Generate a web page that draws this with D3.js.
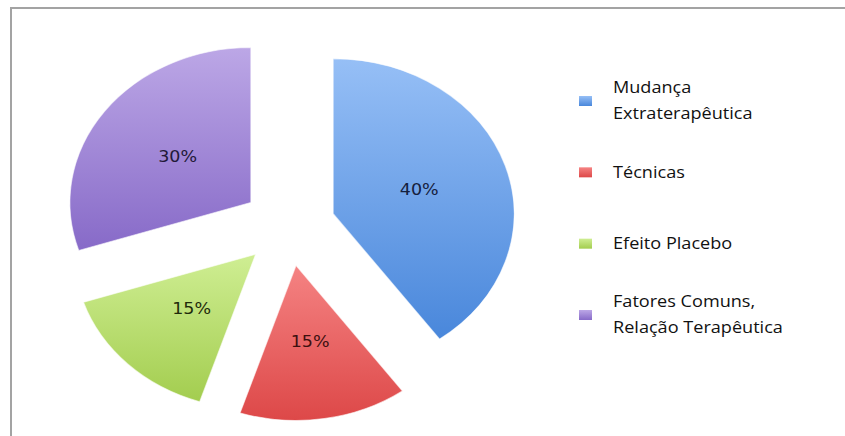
<!DOCTYPE html>
<html>
<head>
<meta charset="utf-8">
<script src="https://cdn.jsdelivr.net/npm/d3@7"></script>
<style>
  body { margin: 0; background: #fff; }
</style>
</head>
<body>
<script>
// Chart dimension
const width = 845;
const height = 436;

// Data
const categories = ["Mudança Extraterapêutica", "Técnicas", "Efeito Placebo", "Fatores Comuns, Relação Terapêutica"];
const legendLines = [["Mudança", "Extraterapêutica"], ["Técnicas"], ["Efeito Placebo"], ["Fatores Comuns,", "Relação Terapêutica"]];
const values = [40, 15, 15, 30];
const percentLabels = ["40%", "15%", "15%", "30%"];

// Slice colours (top / bottom of the gradient)
const topColors = ["#96bff6", "#f58383", "#cfee93", "#bca7e6"];
const bottomColors = ["#4987db", "#dd4848", "#a3cd4f", "#876ac8"];
const labelColors = ["#15203d", "#3d1010", "#1f2b0b", "#221938"];

const radius = 155;
const stretchX = 1.168;   // the whole picture is a bit wider than tall
const explode = 40;

const svg = d3.select("body")
    .append("svg")
    .attr("width", width)
    .attr("height", height);

// Frame
svg.append("rect")
    .attr("x", 11)
    .attr("y", 8)
    .attr("width", width + 20)
    .attr("height", height + 20)
    .attr("fill", "none")
    .attr("stroke", "#a3a3a3")
    .attr("stroke-width", 2);

// Gradients
const defs = svg.append("defs");
categories.forEach((c, i) => {
    const g = defs.append("linearGradient")
        .attr("id", "grad" + i)
        .attr("x1", 0).attr("y1", 0)
        .attr("x2", 0).attr("y2", 1);
    g.append("stop").attr("offset", "0%").attr("stop-color", topColors[i]);
    g.append("stop").attr("offset", "100%").attr("stop-color", bottomColors[i]);
});

const pie = d3.pie().sort(null).value(d => d);
const arcs = pie(values);

const arc = d3.arc()
    .innerRadius(0)
    .outerRadius(radius);

const pieG = svg.append("g")
    .attr("transform", `translate(288.7, 226) scale(${stretchX}, 1)`);

const slices = pieG.selectAll(".slice")
    .data(arcs)
    .enter()
    .append("g")
    .attr("class", "slice")
    .attr("transform", d => {
        const mid = (d.startAngle + d.endAngle) / 2;
        return `translate(${Math.sin(mid) * explode}, ${-Math.cos(mid) * explode})`;
    });

slices.append("path")
    .attr("d", arc)
    .attr("fill", (d, i) => `url(#grad${i})`)
    .attr("stroke", "rgba(255,255,255,0.6)")
    .attr("stroke-width", 1);

slices.append("text")
    .attr("x", d => arc.centroid(d)[0])
    .attr("y", d => arc.centroid(d)[1])
    .attr("text-anchor", "middle")
    .attr("dominant-baseline", "central")
    .style("font-family", "'DejaVu Sans', sans-serif")
    .style("font-size", "15px")
    .attr("fill", (d, i) => labelColors[i])
    .text((d, i) => percentLabels[i]);

// Legend
const yLegend = d3.scalePoint()
    .domain(categories)
    .range([101, 315]);

const legend = svg.selectAll(".legend")
    .data(categories)
    .enter()
    .append("g")
    .attr("class", "legend")
    .attr("transform", d => `translate(0, ${yLegend(d)})`);

legend.append("rect")
    .attr("x", 579)
    .attr("y", -5)
    .attr("width", 13)
    .attr("height", 10)
    .attr("fill", (d, i) => `url(#grad${i})`);

legend.append("text")
    .attr("transform", `translate(613, 0) scale(${stretchX}, 1)`)
    .style("font-family", "'Open Sans', sans-serif")
    .style("font-size", "15.5px")
    .attr("fill", "#111")
    .each(function (d, i) {
        const lines = legendLines[i];
        const t = d3.select(this);
        lines.forEach((line, j) => {
            t.append("tspan")
                .attr("x", 0)
                .attr("y", (j - (lines.length - 1) / 2) * 26)
                .attr("dy", "0.35em")
                .text(line);
        });
    });
</script>
</body>
</html>
